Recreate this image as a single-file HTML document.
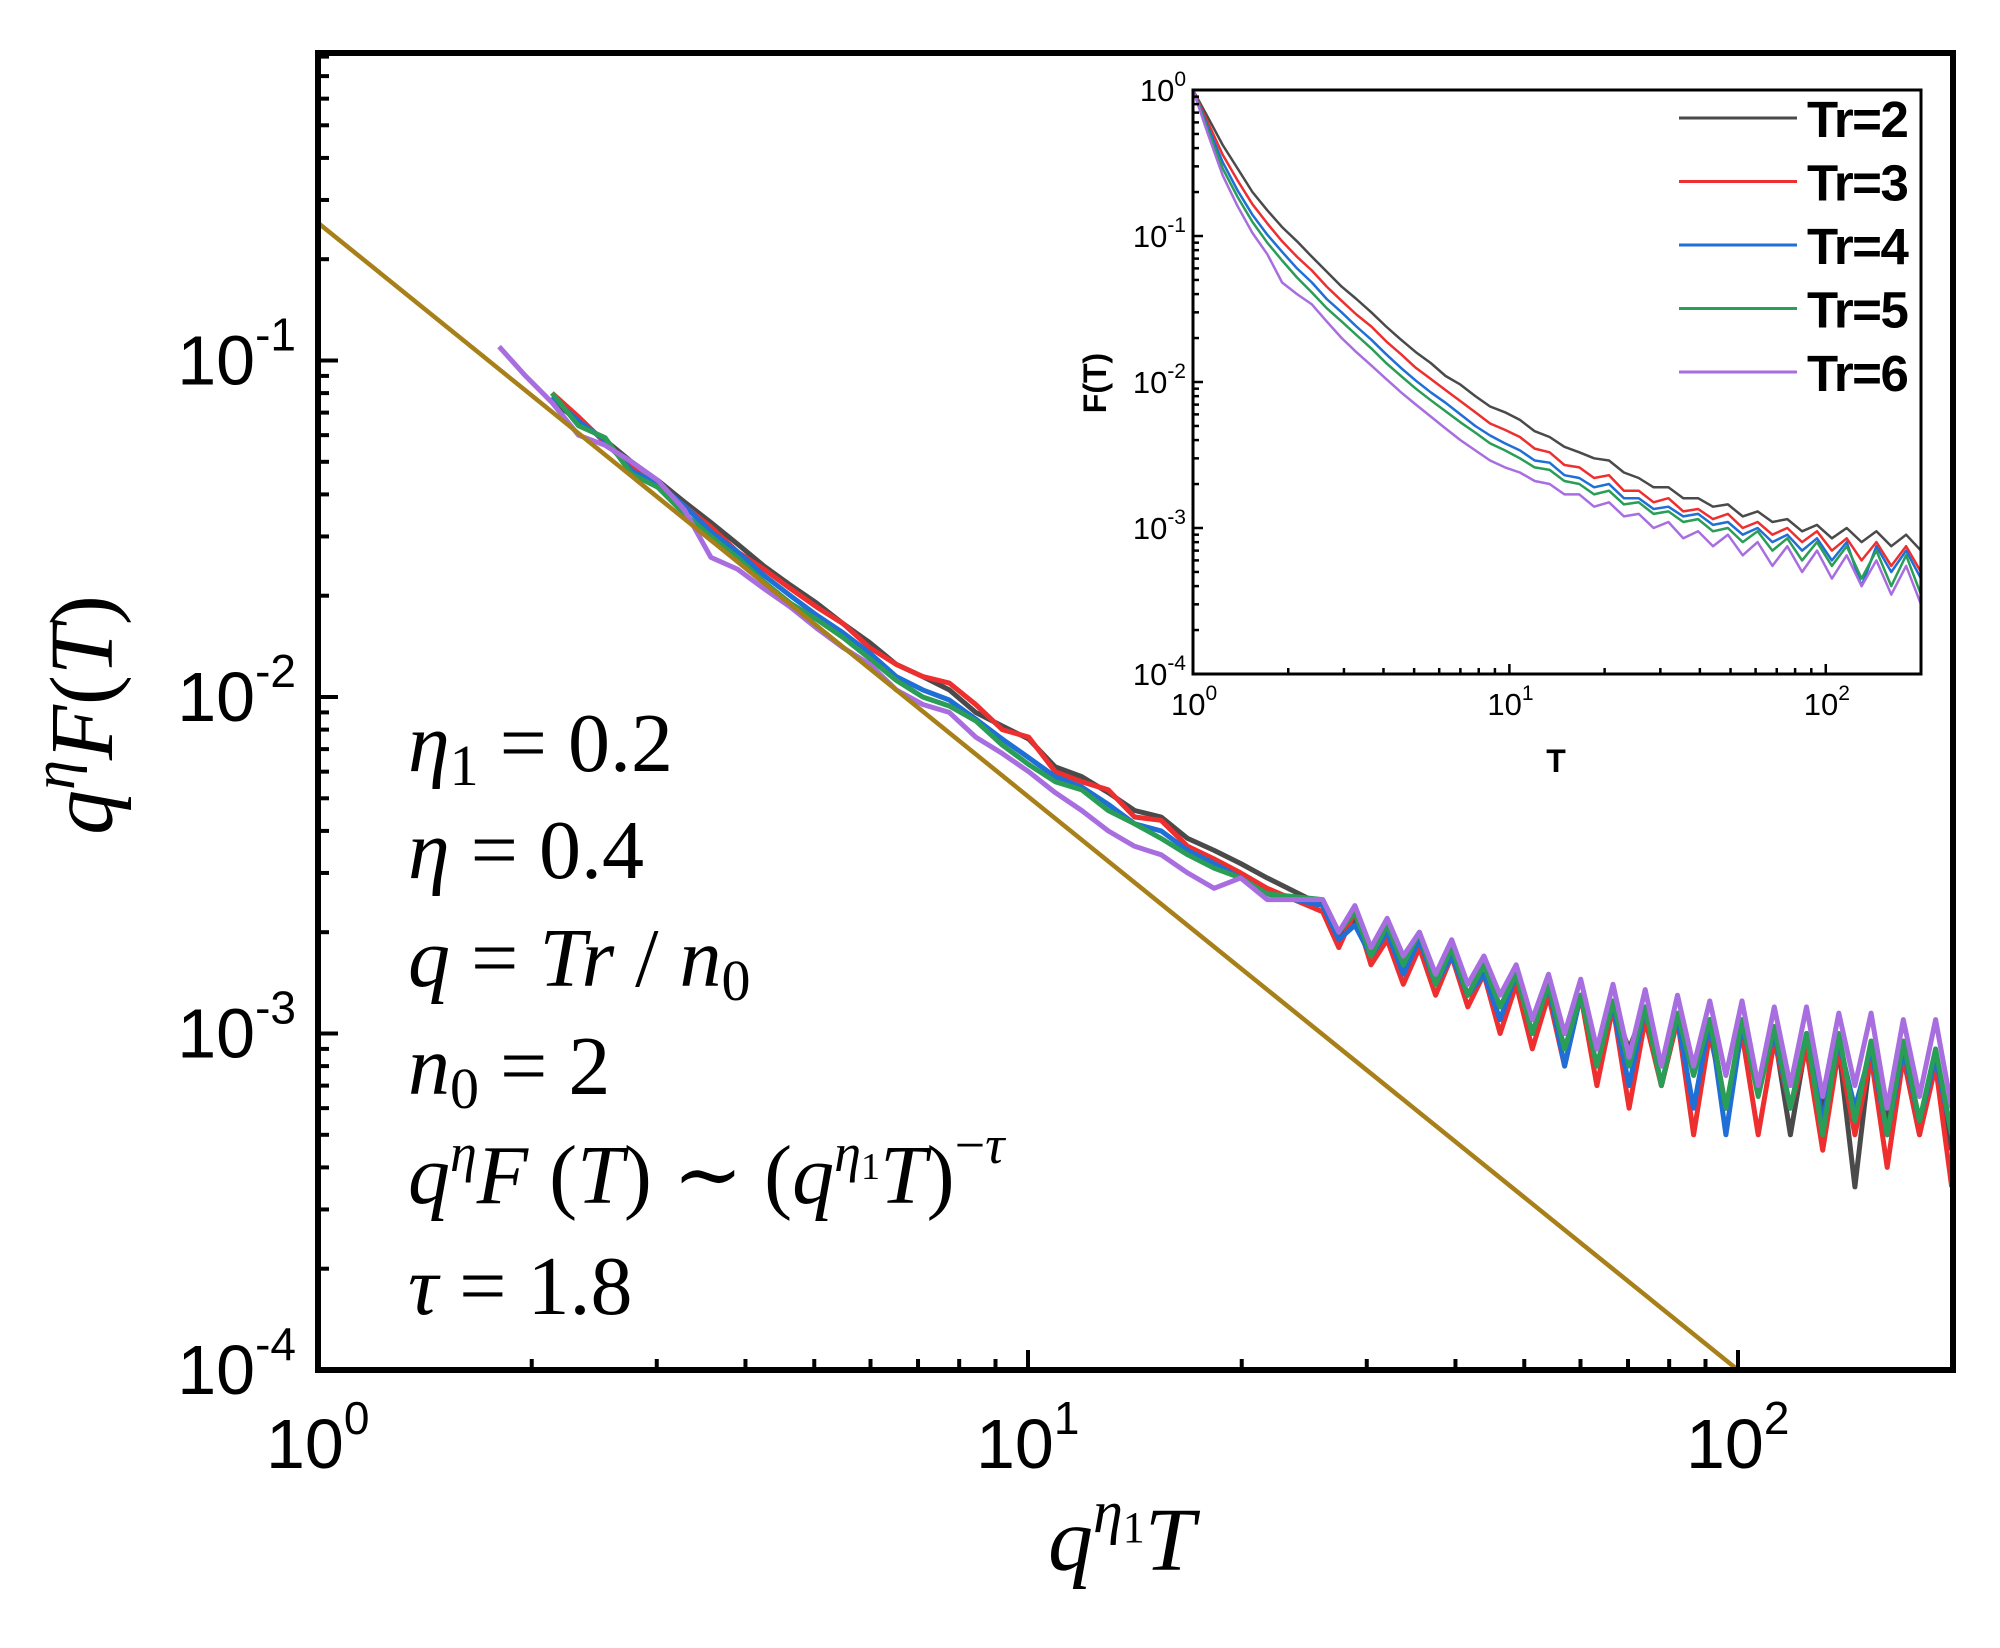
<!DOCTYPE html>
<html><head><meta charset="utf-8"><title>q^η F(T) scaling plot</title>
<style>
html,body{margin:0;padding:0;background:#fff;}
svg{display:block;}
.sans{font-family:"Liberation Sans",Arial,sans-serif;}
.serif{font-family:"Liberation Serif","DejaVu Serif",serif;}
</style></head>
<body>
<svg id="chart" width="2000" height="1648" viewBox="0 0 2000 1648" xmlns="http://www.w3.org/2000/svg">
  <rect width="2000" height="1648" fill="#fff"/>
  <g id="mainPlot"></g>
  <g id="annot" class="serif" font-style="italic" font-size="84" fill="#000">
    <text x="408" y="771">η<tspan font-style="normal" font-size="58" dy="14">1</tspan><tspan font-style="normal" dy="-14"> = 0.2</tspan></text>
    <text x="408" y="878">η<tspan font-style="normal"> = 0.4</tspan></text>
    <text x="408" y="986">q<tspan font-style="normal"> = </tspan>Tr<tspan font-style="normal"> / </tspan>n<tspan font-style="normal" font-size="58" dy="14">0</tspan></text>
    <text x="408" y="1094">n<tspan font-style="normal" font-size="58" dy="14">0</tspan><tspan font-style="normal" dy="-14"> = 2</tspan></text>
    <text x="408" y="1203">q<tspan font-size="54" dy="-32">η</tspan><tspan dy="32">F</tspan><tspan font-style="normal"> (</tspan>T<tspan font-style="normal">)  ∼  (</tspan>q<tspan font-size="54" dy="-32">η</tspan><tspan font-size="38" font-style="normal" dy="8">1</tspan><tspan dy="24">T</tspan><tspan font-style="normal">)</tspan><tspan font-size="54" dy="-40" font-style="normal">−</tspan><tspan font-size="54" dy="0">τ</tspan></text>
    <text x="408" y="1314">τ<tspan font-style="normal"> = 1.8</tspan></text>
  </g>
  <g id="inset"></g>
</svg>
<script>
// ---------- MAIN PLOT DATA ----------
// x grid: head log-spaced 1.8..21.7 (30 pts), tail log-spaced 26..200 (40 pts); y in units of 1e-3
const mainHeadStartLog = 0.255, mainHeadStepLog = 0.0373, mainHeadN = 30;
const mainTailStartLog = 1.415, mainTailEndLog = 2.301, mainTailN = 40;
const mainGray   = [null,null,76,66,58,50,44,38,33,28.5,24.5,21.5,19,16.5,14.5,12.5,11.5,10.5,9.0,8.2,7.5,6.2,5.8,5.2,4.6,4.4,3.8,3.5,3.2,2.9,
  2.4,1.9,2.2,1.7,2.0,1.6,1.9,1.5,1.7,1.3,1.6,1.2,1.5,1.1,1.4,1.0,1.3,0.8,1.2,0.9,1.2,0.7,1.1,0.8,1.1,0.6,1.0,0.7,1.0,0.5,0.95,0.6,0.9,0.35,0.9,0.55,0.85,0.5,0.85,0.45];
const mainRed    = [null,null,80,68,57,48,42,37,32,27,24,21,18.5,16.5,14,12.5,11.5,11,9.5,8.0,7.6,6.0,5.6,5.3,4.4,4.3,3.6,3.3,3.0,2.7,
  2.3,1.8,2.3,1.6,1.9,1.4,1.8,1.3,1.7,1.2,1.5,1.0,1.4,0.9,1.3,0.8,1.3,0.7,1.2,0.6,1.1,0.7,1.1,0.5,1.0,0.6,1.0,0.5,0.95,0.6,0.9,0.45,0.9,0.5,0.85,0.4,0.85,0.5,0.8,0.35];
const mainBlue   = [null,null,78,66,58,47,43,37,31,27,23,20,17.5,15.5,13.5,11.5,10.5,9.8,8.6,7.5,6.6,5.8,5.4,4.8,4.2,4.0,3.5,3.2,2.9,2.6,
  2.4,1.9,2.1,1.7,2.0,1.5,1.9,1.4,1.7,1.3,1.5,1.1,1.5,1.0,1.4,0.8,1.3,0.9,1.2,0.7,1.2,0.8,1.1,0.6,1.1,0.5,1.05,0.7,1.0,0.6,1.0,0.55,0.95,0.6,0.9,0.5,0.9,0.55,0.85,0.5];
const mainGreen  = [null,null,80,64,59,46,42,35,30,26,22,19,17,15,13,11.2,10,9.4,8.5,7.2,6.3,5.6,5.3,4.6,4.2,3.8,3.4,3.1,2.9,2.6,
  2.5,2.0,2.3,1.7,2.1,1.6,2.0,1.4,1.8,1.3,1.6,1.2,1.5,1.0,1.4,0.9,1.3,0.8,1.25,0.8,1.2,0.7,1.15,0.75,1.1,0.6,1.1,0.65,1.05,0.6,1.0,0.5,1.0,0.55,0.95,0.5,0.95,0.55,0.9,0.5];
const mainPurple = [110,90,75,60,56,50,44,36,26,24,21,18.5,16,14,12.5,10.5,9.5,9.0,7.6,6.8,6.0,5.2,4.6,4.0,3.6,3.4,3.0,2.7,2.9,2.5,
  2.5,2.0,2.4,1.8,2.2,1.7,2.0,1.5,1.9,1.4,1.7,1.3,1.6,1.1,1.5,1.0,1.45,0.9,1.4,0.85,1.35,0.8,1.3,0.8,1.25,0.75,1.25,0.7,1.2,0.7,1.2,0.65,1.15,0.7,1.15,0.6,1.1,0.65,1.1,0.6];
const fitX = [1, 100];
const fitY = [0.2565, 0.0001];
const mainXTicks = [0,1,2];
const mainYTicks = [-1,-2,-3,-4];

// ---------- INSET DATA ----------
const insetXStartLog = 0, insetXEndLog = 2.301, insetN = 50;
const insetGray   = [1000,650,420,290,200,150,115,92,72,57,45,37,30,24,19.5,16,13.5,11,9.6,8.0,6.8,6.2,5.5,4.6,4.2,3.6,3.3,3.0,2.9,2.4,2.2,1.9,1.9,1.6,1.6,1.4,1.45,1.2,1.3,1.1,1.15,0.95,1.05,0.85,1.0,0.8,0.95,0.75,0.9,0.7];
const insetRed    = [1000,600,360,240,165,122,92,72,58,45,36,29,24,19,15.5,12.5,10.5,8.8,7.4,6.2,5.2,4.7,4.2,3.5,3.3,2.7,2.6,2.2,2.3,1.8,1.8,1.5,1.6,1.3,1.35,1.15,1.25,1.0,1.1,0.9,1.0,0.8,0.95,0.7,0.85,0.6,0.8,0.55,0.75,0.5];
const insetBlue   = [1000,560,320,205,140,102,78,60,48,37,30,24,19.5,15.5,12.5,10.2,8.5,7.2,6.0,5.0,4.3,3.8,3.4,2.9,2.8,2.3,2.2,1.9,2.0,1.6,1.6,1.35,1.4,1.2,1.25,1.05,1.1,0.9,1.0,0.8,0.9,0.7,0.85,0.6,0.8,0.4,0.75,0.5,0.7,0.45];
const insetGreen  = [1000,530,290,185,125,90,68,52,41,32,26,21,17,13.5,11,9.0,7.5,6.3,5.3,4.5,3.8,3.4,3.0,2.6,2.5,2.1,2.0,1.7,1.8,1.45,1.5,1.25,1.3,1.1,1.15,0.95,1.0,0.8,0.95,0.7,0.85,0.6,0.8,0.55,0.75,0.45,0.7,0.4,0.65,0.35];
const insetPurple = [1000,500,260,160,105,75,48,40,34,26,20,16,13,10.5,8.5,7.0,5.8,4.8,4.0,3.4,2.9,2.6,2.4,2.1,2.0,1.7,1.7,1.4,1.5,1.2,1.25,1.0,1.1,0.85,0.95,0.75,0.9,0.65,0.8,0.55,0.75,0.5,0.7,0.45,0.65,0.4,0.6,0.35,0.55,0.3];
const legendLabels = ["Tr=2","Tr=3","Tr=4","Tr=5","Tr=6"];
const seriesColors = ["#4a4a4a","#ee2f2f","#1f6fd6","#2a9d56","#a86ee0"];
const insetXTicks = [0,1,2];
const insetYTicks = [0,-1,-2,-3,-4];

const NS = "http://www.w3.org/2000/svg";
function mk(tag, attrs, parent){ const e=document.createElementNS(NS,tag); for(const k in attrs) e.setAttribute(k,attrs[k]); parent.appendChild(e); return e; }

const M = {L:318,R:1953,T:53,B:1370,xDec:710,yDec:336.5,yMinLog:-4};
function mx(v){ return M.L + Math.log10(v)*M.xDec; }
function my(v){ return M.B - (Math.log10(v)-M.yMinLog)*M.yDec; }
const I = {L:1193,R:1921,T:90,B:674};
I.xDec = (I.R-I.L)/2.301; I.yDec = (I.B-I.T)/4;
function ix(v){ return I.L + Math.log10(v)*I.xDec; }
function iy(v){ return I.B - (Math.log10(v)+4)*I.yDec; }

const gm = document.getElementById('mainPlot');
const gi = document.getElementById('inset');

function grid(startLog,endLog,n){ const a=[]; for(let i=0;i<n;i++) a.push(Math.pow(10,startLog+(endLog-startLog)*i/(n-1))); return a; }
const mainX = grid(mainHeadStartLog, mainHeadStartLog+mainHeadStepLog*(mainHeadN-1), mainHeadN).concat(grid(mainTailStartLog, mainTailEndLog, mainTailN));
const insetX = grid(insetXStartLog, insetXEndLog, insetN);

function pathFrom(xs, ys, fx, fy, scale){
  let d=""; let started=false;
  for(let i=0;i<xs.length;i++){ if(ys[i]==null) continue; d += (started?"L":"M")+fx(xs[i]).toFixed(1)+" "+fy(ys[i]*scale).toFixed(1)+" "; started=true; }
  return d;
}

const mainSeries=[mainGray,mainRed,mainBlue,mainGreen,mainPurple];
const mainNames=['main-series-tr2','main-series-tr3','main-series-tr4','main-series-tr5','main-series-tr6'];
mainSeries.forEach((s,k)=>{
  const p = mk('path',{d:pathFrom(mainX,s,mx,my,1e-3),fill:'none',stroke:seriesColors[k],'stroke-width':5,'stroke-linejoin':'round'},gm);
  
  
});
const fit = mk('line',{x1:mx(fitX[0]),y1:my(fitY[0]),x2:mx(fitX[1]),y2:my(fitY[1]),stroke:'#a8801a','stroke-width':4.5},gm);



const mf = mk('rect',{x:M.L,y:M.T,width:M.R-M.L,height:M.B-M.T,fill:'none',stroke:'#000','stroke-width':6},gm);



const tg = mk('g',{stroke:'#000','stroke-width':4},gm);


for(let d=0; d<=2; d++){
  for(let m=1;m<=9;m++){
    const v=m*Math.pow(10,d); const x=mx(v); if(x>M.R-2) continue;
    const len = m===1?20:11;
    mk('line',{x1:x,y1:M.B,x2:x,y2:M.B-len},tg);
  }
}
for(let d=-4; d<=-1; d++){
  for(let m=1;m<=9;m++){
    const v=m*Math.pow(10,d); const y=my(v); if(y<M.T+2) continue;
    const len = m===1?20:11;
    mk('line',{x1:M.L,y1:y,x2:M.L+len,y2:y},tg);
  }
}
mainXTicks.forEach(e=>{
  const t = mk('text',{x:mx(Math.pow(10,e))-52,y:1468,'font-size':70,class:'sans',fill:'#000'},gm);
  
  
  t.textContent='10';
  const s = mk('tspan',{'font-size':46,dy:-34},t); s.textContent=String(e);
});
mainYTicks.forEach(e=>{
  const t = mk('text',{x:296,y:my(Math.pow(10,e))+24,'font-size':70,class:'sans',fill:'#000','text-anchor':'end'},gm);
  
  
  t.textContent='10';
  const s = mk('tspan',{'font-size':46,dy:-34},t); s.textContent=String(e);
});
const xt = mk('text',{x:1048,y:1570,'font-size':90,class:'serif','font-style':'italic',fill:'#000'},gm);


xt.innerHTML = 'q<tspan font-size="60" dy="-38">η</tspan><tspan font-size="44" font-style="normal" dy="10">1</tspan><tspan dy="28">T</tspan>';
const yt = mk('text',{x:0,y:0,'font-size':90,class:'serif','font-style':'italic',fill:'#000','text-anchor':'middle',transform:'translate(112,715) rotate(-90)'},gm);


yt.innerHTML = 'q<tspan font-size="60" dy="-38">η</tspan><tspan dy="38">F</tspan><tspan font-style="normal">(</tspan>T<tspan font-style="normal">)</tspan>';

// ---------- INSET ----------
mk('rect',{x:I.L,y:I.T,width:I.R-I.L,height:I.B-I.T,fill:'#fff'},gi);
const insetSeries=[insetGray,insetRed,insetBlue,insetGreen,insetPurple];
const insetNames=['inset-series-tr2','inset-series-tr3','inset-series-tr4','inset-series-tr5','inset-series-tr6'];
insetSeries.forEach((s,k)=>{
  const p = mk('path',{d:pathFrom(insetX,s,ix,iy,1e-3),fill:'none',stroke:seriesColors[k],'stroke-width':2.5,'stroke-linejoin':'round'},gi);
  
  
});
const ifr = mk('rect',{x:I.L,y:I.T,width:I.R-I.L,height:I.B-I.T,fill:'none',stroke:'#000','stroke-width':3},gi);


const itg = mk('g',{stroke:'#000','stroke-width':2.5},gi);


for(let d=0; d<=2; d++){
  for(let m=1;m<=9;m++){
    const x=ix(m*Math.pow(10,d)); if(x>I.R-2) continue;
    const len=m===1?10:6; mk('line',{x1:x,y1:I.B,x2:x,y2:I.B-len},itg);
  }
}
for(let d=-4; d<=-1; d++){
  for(let m=1;m<=9;m++){
    const y=iy(m*Math.pow(10,d));
    const len=m===1?10:6; mk('line',{x1:I.L,y1:y,x2:I.L+len,y2:y},itg);
  }
}
insetXTicks.forEach(e=>{
  const t = mk('text',{x:ix(Math.pow(10,e))-22,y:715,'font-size':31,class:'sans',fill:'#000'},gi);
  
  
  t.textContent='10';
  const s = mk('tspan',{'font-size':21,dy:-15},t); s.textContent=String(e);
});
insetYTicks.forEach(e=>{
  const t = mk('text',{x:1186,y:iy(Math.pow(10,e))+11,'font-size':31,class:'sans',fill:'#000','text-anchor':'end'},gi);
  
  
  t.textContent='10';
  const s = mk('tspan',{'font-size':21,dy:-15},t); s.textContent=String(e);
});
const ixt = mk('text',{x:1556,y:772,'font-size':32,'font-weight':'bold',class:'sans',fill:'#000','text-anchor':'middle'},gi);


ixt.textContent='T';
const iyt = mk('text',{x:0,y:0,'font-size':32,'font-weight':'bold',class:'sans',fill:'#000','text-anchor':'middle',transform:'translate(1106,383) rotate(-90)'},gi);


iyt.textContent='F(T)';
const lg = mk('g',{},gi);


legendLabels.forEach((lab,k)=>{
  const y = 118 + k*63.5;
  const l = mk('line',{x1:1679,y1:y,x2:1797,y2:y,stroke:seriesColors[k],'stroke-width':3},lg);
  
  
  const t = mk('text',{x:1807,y:y+19,'font-size':51,'font-weight':'bold',class:'sans',fill:'#000','letter-spacing':'-1.5'},lg);
  
  
  t.textContent = lab;
});
</script>
</body></html>
